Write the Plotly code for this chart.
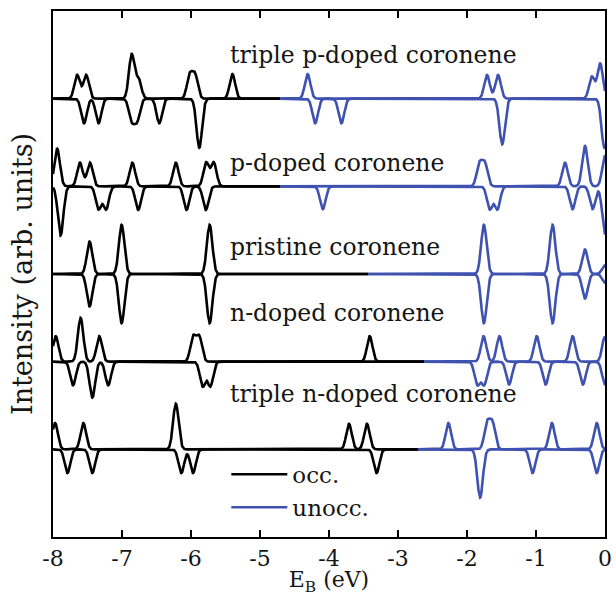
import numpy as np
import plotly.graph_objects as go

# ---------------- data ----------------
labels = ["triple p-doped coronene", "p-doped coronene", "pristine coronene",
          "n-doped coronene", "triple n-doped coronene"]
offsets = [4, 3, 2, 1, 0]                      # vertical stacking of the spectra
occ_edge = [-4.71, -4.71, -3.43, -2.62, -2.71]  # occupied (black) -> unoccupied (blue)
label_y = [4.50, 3.27, 2.31, 1.55, 0.63]
label_x = -5.46

# spin-up peaks: energies (eV) and heights (arb. units)
tp_up_E = [-7.65, -7.52, -6.86, -6.76, -6.02, -5.94, -5.40, -4.31, -1.71, -1.55, -0.19, -0.07]
tp_up_H = [0.27, 0.27, 0.50, 0.22, 0.26, 0.26, 0.28, 0.28, 0.27, 0.27, 0.25, 0.40]
tp_dn_E = [-7.55, -7.34, -6.86, -6.78, -6.46, -5.88, -4.20, -3.82, -1.49, -0.01]
tp_dn_H = [0.28, 0.28, 0.24, 0.24, 0.28, 0.56, 0.28, 0.28, 0.52, 0.56]

p_up_E = [-7.94, -7.61, -7.465, -6.85, -6.22, -5.78, -5.67, -1.82, -1.74, -0.58, -0.29, 0.0]
p_up_H = [0.43, 0.27, 0.27, 0.27, 0.27, 0.27, 0.27, 0.25, 0.25, 0.27, 0.46, 0.35]
p_dn_E = [-7.89, -7.34, -7.23, -6.765, -6.065, -5.786, -4.09, -1.67, -1.56, -0.47, -0.18, 0.0]
p_dn_H = [0.56, 0.26, 0.26, 0.27, 0.27, 0.27, 0.26, 0.26, 0.26, 0.26, 0.26, 0.55]

pr_up_E = [-7.47, -7.005, -5.73, -1.755, -0.76, -0.29, 0.0]
pr_up_H = [0.37, 0.56, 0.56, 0.56, 0.56, 0.28, 0.10]
pr_dn_E = [-7.47, -7.005, -5.73, -1.755, -0.76, -0.29, 0.0]
pr_dn_H = [0.37, 0.56, 0.56, 0.56, 0.56, 0.28, 0.10]

n_up_E = [-7.96, -7.60, -7.33, -5.97, -5.88, -3.41, -1.76, -1.53, -0.99, -0.47, 0.0]
n_up_H = [0.29, 0.50, 0.29, 0.28, 0.28, 0.29, 0.29, 0.29, 0.29, 0.29, 0.29]
n_dn_E = [-7.71, -7.43, -7.20, -5.83, -5.72, -1.85, -1.75, -1.39, -0.86, -0.32, 0.0]
n_dn_H = [0.27, 0.41, 0.27, 0.28, 0.28, 0.26, 0.26, 0.26, 0.26, 0.26, 0.26]

tn_up_E = [-7.97, -7.56, -6.22, -3.71, -3.45, -2.27, -1.71, -1.63, -0.77, -0.12]
tn_up_H = [0.30, 0.30, 0.52, 0.29, 0.29, 0.30, 0.29, 0.29, 0.30, 0.30]
tn_dn_E = [-7.79, -7.43, -6.14, -5.97, -3.31, -1.81, -1.05, -0.12]
tn_dn_H = [0.27, 0.27, 0.27, 0.27, 0.27, 0.55, 0.27, 0.27]

spin_up = [(tp_up_E, tp_up_H), (p_up_E, p_up_H), (pr_up_E, pr_up_H), (n_up_E, n_up_H), (tn_up_E, tn_up_H)]
spin_dn = [(tp_dn_E, tp_dn_H), (p_dn_E, p_dn_H), (pr_dn_E, pr_dn_H), (n_dn_E, n_dn_H), (tn_dn_E, tn_dn_H)]

x_ticks = [-8, -7, -6, -5, -4, -3, -2, -1, 0]
x_ticktext = ["-8", "-7", "-6", "-5", "-4", "-3", "-2", "-1", "0"]

# ---------------- styling ----------------
SIGMA = 0.04            # Gaussian broadening (eV)
BLACK = "#000000"
BLUE = "#3f52b0"
TXT = "#151515"
FONT = "DejaVu Serif"
LW = 2.6

E = np.linspace(-8.0, 0.0, 2401)


def broaden(centres, heights):
    y = np.zeros_like(E)
    for c, h in zip(centres, heights):
        y += h * np.exp(-0.5 * ((E - c) / SIGMA) ** 2)
    return y


fig = go.Figure()
first_occ, first_un = True, True
for k in range(len(labels)):
    up = offsets[k] + broaden(*spin_up[k])
    dn = offsets[k] - broaden(*spin_dn[k])
    occ = E <= occ_edge[k] + 1e-9
    un = E >= occ_edge[k] - 1e-9
    for curve in (up, dn):
        fig.add_trace(go.Scatter(x=E[occ], y=curve[occ], mode="lines",
                                 line=dict(color=BLACK, width=LW),
                                 name="occ.", legendgroup="occ", showlegend=first_occ,
                                 hoverinfo="skip"))
        first_occ = False
    for curve in (up, dn):
        fig.add_trace(go.Scatter(x=E[un], y=curve[un], mode="lines",
                                 line=dict(color=BLUE, width=LW),
                                 name="unocc.", legendgroup="unocc", showlegend=first_un,
                                 hoverinfo="skip"))
        first_un = False

for k, lab in enumerate(labels):
    fig.add_annotation(x=label_x, y=label_y[k], text=lab, showarrow=False,
                       xanchor="left", yanchor="middle",
                       font=dict(family=FONT, size=23.5, color=TXT))

fig.update_layout(
    width=616, height=596,
    margin=dict(l=53, r=11, t=11, b=59, autoexpand=False),
    paper_bgcolor="white", plot_bgcolor="white",
    font=dict(family=FONT, color=TXT),
    legend=dict(x=0.314, y=0.160, xanchor="left", yanchor="top",
                bgcolor="rgba(0,0,0,0)", font=dict(family=FONT, size=23, color=TXT),
                tracegroupgap=0, itemwidth=56),
)
fig.update_xaxes(range=[-8, 0], tickvals=x_ticks, ticktext=x_ticktext,
                 ticks="inside", ticklen=7, tickwidth=1.8, tickcolor="black",
                 showline=True, linecolor="black", linewidth=2.4, mirror="allticks",
                 showgrid=False, zeroline=False, automargin=True,
                 tickfont=dict(family=FONT, size=22, color=TXT),
                 title=dict(text="E<sub>B</sub> (eV)", standoff=1,
                            font=dict(family=FONT, size=22, color=TXT)))
fig.update_yaxes(range=[-1.0, 5.0], showticklabels=False, ticks="",
                 showline=True, linecolor="black", linewidth=2.4, mirror=True,
                 showgrid=False, zeroline=False, automargin=False,
                 title=dict(text="Intensity (arb. units)", standoff=10,
                            font=dict(family=FONT, size=27, color=TXT)))

fig.write_html("out.html")
